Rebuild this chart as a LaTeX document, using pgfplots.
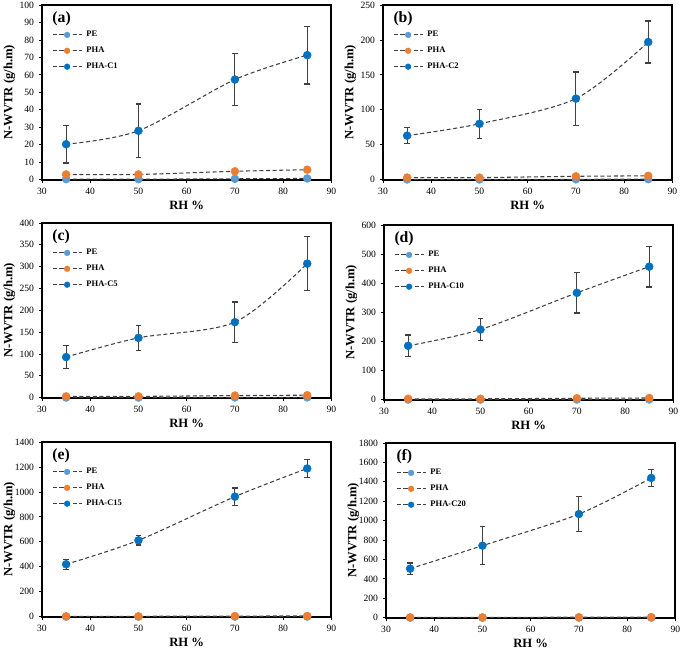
\documentclass[border=0pt]{standalone}
\usepackage{pgfplots}
\pgfplotsset{compat=1.18}
\usepackage{fontspec}
\setmainfont{Liberation Serif}
\definecolor{cPE}{HTML}{5B9BD5}
\definecolor{cPHA}{HTML}{ED7D31}
\definecolor{cC}{HTML}{0070C0}
\definecolor{lgray}{HTML}{404040}
\tikzset{plab/.style={font=\fontsize{11.8}{13}\selectfont\bfseries, anchor=west}}
\pgfplotsset{
  panel/.style={
    scale only axis, width=217pt, height=131pt,
    xmin=30, xmax=90, xtick={30,40,...,90},
    ymin=0,
    axis line style={line width=1.5pt, black},
    tick align=outside, tick pos=left, major tick length=2.5pt,
    tick style={black, line width=0.6pt},
    ticklabel style={font=\fontsize{7.2}{8}\selectfont},
    /pgf/number format/assume math mode=true,
    /pgf/number format/1000 sep={},
    xlabel={RH \%}, ylabel={N-WVTR (g/h.m)},
    label style={font=\fontsize{9.5}{11}\selectfont\bfseries},
    x label style={at={(axis description cs:0.5,-0.145)}, anchor=center},
    y label style={at={(axis description cs:-0.113,0.5)}, anchor=center},
    legend style={at={(axis description cs:0.02,0.875)}, anchor=north west, draw=none, fill=none,
      font=\fontsize{6.4}{7}\selectfont\bfseries, row sep=4.2pt, column sep=2.2pt, nodes={inner sep=1pt}},
    legend cell align=left,
    legend image code/.code={\draw[##1, /tikz/every mark/.append style={scale=0.72}, mark repeat=2, mark phase=2] plot coordinates {(0pt,0pt) (10.9pt,0pt) (21.8pt,0pt)};},
  },
  ser/.style={smooth, tension=0.5, color=lgray, dash pattern=on 3pt off 2pt, line width=0.8pt,
    mark=*, mark size=3pt, mark options={solid, fill=#1, draw=#1, line width=0.3pt}},
  eb/.style={error bars/y dir=both, error bars/y explicit,
    error bars/error bar style={solid, color=lgray, line width=0.9pt},
    error bars/error mark options={rotate=90, mark size=2.2pt, line width=0.9pt, color=lgray, solid}},
}
\begin{document}
\begin{tikzpicture}
\useasboundingbox (0,0) rectangle (510pt,-487.5pt);
% (a)
\begin{axis}[panel, at={(31.5pt,-3.75pt)}, anchor=north west, ymax=100, ytick={0,10,...,100}]
\addplot[ser=cPE] coordinates {(35,0.3)(50,0.3)(70,0.5)(85,0.7)};
\addplot[ser=cPHA] coordinates {(35,3)(50,3)(70,4.8)(85,5.7)};
\addplot[ser=cC, eb] coordinates {(35,20.3) +- (0,10.8) (50,28) +- (0,15.3) (70,57.3) +- (0,14.8) (85,71.3) +- (0,16.5)};
\legend{PE,PHA,PHA-C1}
\node[plab] at (rel axis cs:0.02,0.92) {(a)};
\end{axis}
% (b)
\begin{axis}[panel, at={(287.25pt,-3.75pt)}, anchor=north west, ymax=250, ytick={0,50,...,250}]
\addplot[ser=cPE] coordinates {(35,0.3)(50,0.3)(70,0.5)(85,0.7)};
\addplot[ser=cPHA] coordinates {(35,3)(50,3)(70,4.8)(85,5.5)};
\addplot[ser=cC, eb] coordinates {(35,63) +- (0,11.5) (50,80) +- (0,21) (70,116) +- (0,38) (85,197) +- (0,30)};
\legend{PE,PHA,PHA-C2}
\node[plab] at (rel axis cs:0.02,0.92) {(b)};
\end{axis}
% (c)
\begin{axis}[panel, at={(31.5pt,-167.25pt)}, anchor=north west, ymax=400, ytick={0,50,...,400}]
\addplot[ser=cPE] coordinates {(35,0.3)(50,0.3)(70,0.5)(85,0.7)};
\addplot[ser=cPHA] coordinates {(35,3)(50,3)(70,4.8)(85,5.7)};
\addplot[ser=cC, eb] coordinates {(35,93) +- (0,26) (50,137) +- (0,29) (70,173) +- (0,46) (85,307) +- (0,62)};
\legend{PE,PHA,PHA-C5}
\node[plab] at (rel axis cs:0.02,0.92) {(c)};
\end{axis}
% (d)
\begin{axis}[panel, at={(288pt,-168.75pt)}, anchor=north west, ymax=600, ytick={0,100,...,600}]
\addplot[ser=cPE] coordinates {(35,0.3)(50,0.3)(70,0.5)(85,0.7)};
\addplot[ser=cPHA] coordinates {(35,3)(50,3)(70,4.8)(85,5.7)};
\addplot[ser=cC, eb] coordinates {(35,185) +- (0,37) (50,241) +- (0,37) (70,367) +- (0,69) (85,457) +- (0,70)};
\legend{PE,PHA,PHA-C10}
\node[plab] at (rel axis cs:0.02,0.92) {(d)};
\end{axis}
% (e)
\begin{axis}[panel, at={(31.5pt,-331.5pt)}, anchor=north west, ymax=1400, ytick={0,200,...,1400}]
\addplot[ser=cPE] coordinates {(35,0.3)(50,0.3)(70,0.5)(85,0.7)};
\addplot[ser=cPHA] coordinates {(35,3)(50,3)(70,4.8)(85,5.7)};
\addplot[ser=cC, eb] coordinates {(35,420) +- (0,40) (50,612) +- (0,38) (70,962) +- (0,70) (85,1188) +- (0,70)};
\legend{PE,PHA,PHA-C15}
\node[plab] at (rel axis cs:0.02,0.92) {(e)};
\end{axis}
% (f)
\begin{axis}[panel, at={(289.5pt,-332.25pt)}, anchor=north west, ymax=1800, ytick={0,200,...,1800}]
\addplot[ser=cPE] coordinates {(35,0.3)(50,0.3)(70,0.5)(85,0.7)};
\addplot[ser=cPHA] coordinates {(35,3)(50,3)(70,4.8)(85,5.7)};
\addplot[ser=cC, eb] coordinates {(35,505) +- (0,58) (50,742) +- (0,195) (70,1068) +- (0,178) (85,1440) +- (0,90)};
\legend{PE,PHA,PHA-C20}
\node[plab] at (rel axis cs:0.02,0.92) {(f)};
\end{axis}
\end{tikzpicture}
\end{document}
